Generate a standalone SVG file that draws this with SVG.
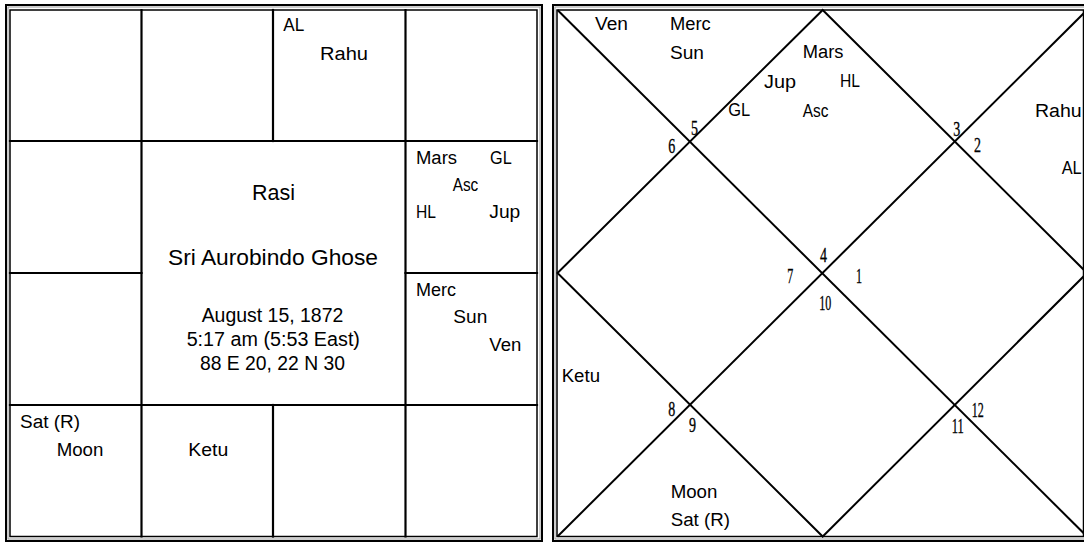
<svg xmlns="http://www.w3.org/2000/svg" width="1084" height="543" viewBox="0 0 1084 543">
<style>
.bg{fill:#fff}
.fo{fill:none;stroke:#000;stroke-width:2}
.fg{fill:none;stroke:#9a9a9a;stroke-width:1}
.fi{fill:none;stroke:#000;stroke-width:1.5}
.ln{fill:none;stroke:#000;stroke-width:2.2;stroke-linecap:square}
.dg{fill:none;stroke:#000;stroke-width:2}
.l{font-family:"Liberation Sans",Arial,sans-serif;font-size:18px;fill:#000}
.t{font-family:"Liberation Sans",Arial,sans-serif;font-size:22px;fill:#000;text-anchor:middle}
.d{font-family:"Liberation Sans",Arial,sans-serif;font-size:19.5px;fill:#000;text-anchor:middle}
.n{font-family:"Liberation Serif","Times New Roman",serif;font-size:21.5px;fill:#000;stroke:#000;stroke-width:0.35}
</style>
<rect class="bg" x="0" y="0" width="1084" height="543"/>

<!-- LEFT CHART (South Indian Rasi) -->
<g id="rasi-frame">
  <rect class="fo" x="6" y="5" width="536" height="536"/>
  <rect class="fg" x="8" y="7" width="532" height="532"/>
  <rect class="fi" x="10" y="10" width="527" height="526.5"/>
</g>
<g id="rasi-grid">
  <line class="ln" x1="141.5" y1="10" x2="141.5" y2="536.5"/>
  <line class="ln" x1="405.5" y1="10" x2="405.5" y2="536.5"/>
  <line class="ln" x1="10" y1="141" x2="537" y2="141"/>
  <line class="ln" x1="10" y1="405" x2="537" y2="405"/>
  <line class="ln" x1="273" y1="10" x2="273" y2="141"/>
  <line class="ln" x1="273" y1="405" x2="273" y2="536.5"/>
  <line class="ln" x1="10" y1="273" x2="141.5" y2="273"/>
  <line class="ln" x1="405.5" y1="273" x2="537" y2="273"/>
</g>
<g id="rasi-taurus">
  <text class="l" x="283.3" y="31" textLength="21" lengthAdjust="spacingAndGlyphs">AL</text>
  <text class="l" x="320" y="59.5" textLength="48" lengthAdjust="spacingAndGlyphs">Rahu</text>
</g>
<g id="rasi-cancer">
  <text class="l" x="416" y="163.5" textLength="41" lengthAdjust="spacingAndGlyphs">Mars</text>
  <text class="l" x="490" y="163.5" textLength="21.7" lengthAdjust="spacingAndGlyphs">GL</text>
  <text class="l" x="452.7" y="191" textLength="25.6" lengthAdjust="spacingAndGlyphs">Asc</text>
  <text class="l" x="416" y="218" textLength="20" lengthAdjust="spacingAndGlyphs">HL</text>
  <text class="l" x="489.3" y="218" textLength="31" lengthAdjust="spacingAndGlyphs">Jup</text>
</g>
<g id="rasi-leo">
  <text class="l" x="416" y="295.7" textLength="40" lengthAdjust="spacingAndGlyphs">Merc</text>
  <text class="l" x="453.3" y="323.3" textLength="34" lengthAdjust="spacingAndGlyphs">Sun</text>
  <text class="l" x="489.3" y="350.7" textLength="32" lengthAdjust="spacingAndGlyphs">Ven</text>
</g>
<g id="rasi-aquarius">
  <text class="l" x="20" y="427.7" textLength="60" lengthAdjust="spacingAndGlyphs">Sat (R)</text>
  <text class="l" x="56.7" y="455.7" textLength="46.7" lengthAdjust="spacingAndGlyphs">Moon</text>
</g>
<g id="rasi-capricorn">
  <text class="l" x="188.3" y="455.7" textLength="40" lengthAdjust="spacingAndGlyphs">Ketu</text>
</g>
<g id="rasi-center">
  <text class="t" x="273.5" y="200" textLength="43" lengthAdjust="spacingAndGlyphs">Rasi</text>
  <text class="t" x="273" y="265" textLength="210" lengthAdjust="spacingAndGlyphs">Sri Aurobindo Ghose</text>
  <text class="d" x="272.5" y="322" textLength="141.7" lengthAdjust="spacingAndGlyphs">August 15, 1872</text>
  <text class="d" x="273.3" y="346" textLength="173.3" lengthAdjust="spacingAndGlyphs">5:17 am (5:53 East)</text>
  <text class="d" x="272.5" y="369.5" textLength="145" lengthAdjust="spacingAndGlyphs">88 E 20, 22 N 30</text>
</g>

<!-- RIGHT CHART (North Indian) -->
<g id="bhava-frame">
  <rect class="fo" x="553" y="5" width="540" height="536"/>
  <rect class="fg" x="555" y="7" width="536" height="532"/>
  <rect class="fi" x="557" y="10" width="526.5" height="526.5"/>
</g>
<g id="connectors">
  <line class="dg" x1="557.5" y1="10" x2="1087" y2="536.5"/>
  <line class="dg" x1="1087" y1="10" x2="557.5" y2="536.5"/>
  <polygon class="dg" points="822.7,10 1087,273 822.7,536.5 557.5,273"/>
</g>
<g id="house-1"><text class="n" x="856" y="283" textLength="6" lengthAdjust="spacingAndGlyphs">1</text></g>
<g id="house-2">
  <text class="n" x="974" y="152" textLength="7" lengthAdjust="spacingAndGlyphs">2</text>
  <text class="l" x="1035" y="116.7" textLength="46.7" lengthAdjust="spacingAndGlyphs">Rahu</text>
  <text class="l" x="1061.7" y="174" textLength="20" lengthAdjust="spacingAndGlyphs">AL</text>
</g>
<g id="house-3"><text class="n" x="953.3" y="136" textLength="7" lengthAdjust="spacingAndGlyphs">3</text></g>
<g id="house-4">
  <text class="n" x="820" y="262" textLength="7" lengthAdjust="spacingAndGlyphs">4</text>
  <text class="l" x="802.7" y="58" textLength="40.7" lengthAdjust="spacingAndGlyphs">Mars</text>
  <text class="l" x="764" y="87.5" textLength="32" lengthAdjust="spacingAndGlyphs">Jup</text>
  <text class="l" x="840" y="87" textLength="20" lengthAdjust="spacingAndGlyphs">HL</text>
  <text class="l" x="728.3" y="116.3" textLength="22" lengthAdjust="spacingAndGlyphs">GL</text>
  <text class="l" x="802.7" y="116.7" textLength="25.7" lengthAdjust="spacingAndGlyphs">Asc</text>
</g>
<g id="house-5">
  <text class="n" x="691" y="135" textLength="7" lengthAdjust="spacingAndGlyphs">5</text>
  <text class="l" x="670" y="30" textLength="40.7" lengthAdjust="spacingAndGlyphs">Merc</text>
  <text class="l" x="670" y="59" textLength="34" lengthAdjust="spacingAndGlyphs">Sun</text>
</g>
<g id="house-6">
  <text class="n" x="668.3" y="153" textLength="7" lengthAdjust="spacingAndGlyphs">6</text>
  <text class="l" x="595" y="30" textLength="33" lengthAdjust="spacingAndGlyphs">Ven</text>
</g>
<g id="house-7"><text class="n" x="787.3" y="283" textLength="6" lengthAdjust="spacingAndGlyphs">7</text></g>
<g id="house-8">
  <text class="n" x="668.3" y="416" textLength="7" lengthAdjust="spacingAndGlyphs">8</text>
  <text class="l" x="561.7" y="381.7" textLength="38.3" lengthAdjust="spacingAndGlyphs">Ketu</text>
</g>
<g id="house-9">
  <text class="n" x="689" y="432" textLength="7" lengthAdjust="spacingAndGlyphs">9</text>
  <text class="l" x="670.7" y="498.3" textLength="46.7" lengthAdjust="spacingAndGlyphs">Moon</text>
  <text class="l" x="670.7" y="526" textLength="59.3" lengthAdjust="spacingAndGlyphs">Sat (R)</text>
</g>
<g id="house-10"><text class="n" x="819.3" y="310" textLength="12" lengthAdjust="spacingAndGlyphs">10</text></g>
<g id="house-11"><text class="n" x="951.7" y="433" textLength="12" lengthAdjust="spacingAndGlyphs">11</text></g>
<g id="house-12"><text class="n" x="971.7" y="417" textLength="12" lengthAdjust="spacingAndGlyphs">12</text></g>
</svg>
